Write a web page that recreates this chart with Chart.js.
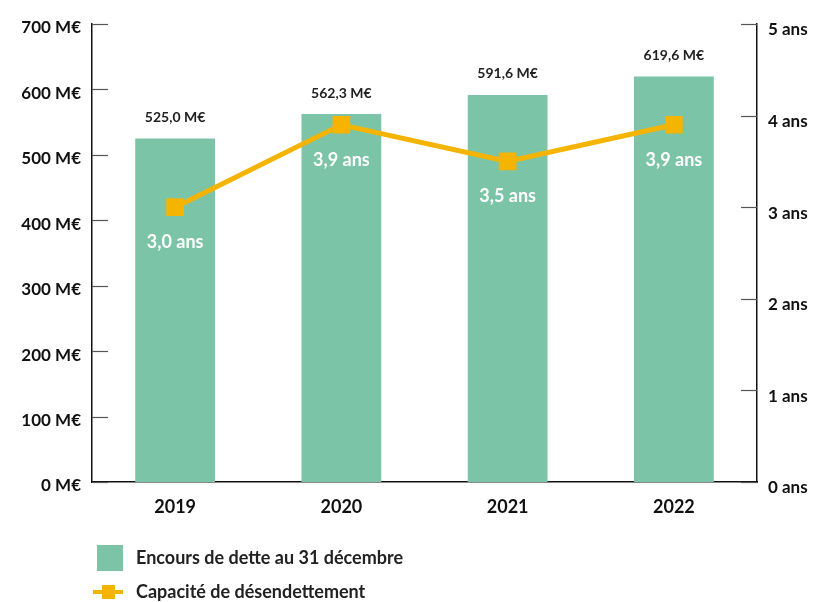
<!DOCTYPE html>
<html><head><meta charset="utf-8">
<script src="https://cdn.jsdelivr.net/npm/chart.js@4"></script>
<style>
html,body{margin:0;padding:0;background:#fff;}
#wrap{position:relative;width:816px;height:602px;}
canvas{position:absolute;left:0;top:0;}
.leg{position:absolute;font-family:Lato,"Open Sans",sans-serif;font-weight:700;font-size:18px;color:#222;white-space:nowrap;}
</style></head>
<body>
<div id="wrap">
<canvas id="c" width="816" height="602"></canvas>
<div style="position:absolute;left:97px;top:545px;width:26px;height:26px;background:#7cc4a8;"></div>
<div class="leg" style="left:136px;top:546px;">Encours de dette au 31 décembre</div>
<div style="position:absolute;left:93px;top:590px;width:30px;height:4px;background:#f5b400;"></div>
<div style="position:absolute;left:102px;top:585px;width:13px;height:14px;background:#f5b400;"></div>
<div class="leg" style="left:136px;top:580px;">Capacité de désendettement</div>
</div>
<script>
const years = ['2019', '2020', '2021', '2022'];
const encours = [525.0, 562.3, 591.6, 619.6];
const capacite = [3.0, 3.9, 3.5, 3.9];
const encoursLabels = ['525,0 M€', '562,3 M€', '591,6 M€', '619,6 M€'];
const capaciteLabels = ['3,0 ans', '3,9 ans', '3,5 ans', '3,9 ans'];
const leftTicks = [0, 100, 200, 300, 400, 500, 600, 700];
const rightTicks = [0, 1, 2, 3, 4, 5];

const FONT = 'Lato, "Open Sans", sans-serif';
const GREEN = '#7cc4a8';
const ORANGE = '#f5b400';

const innerTicks = {
  id: 'innerTicks',
  afterDatasetsDraw(chart) {
    const ctx = chart.ctx;
    const ya = chart.scales.y, yb = chart.scales.y1;
    ctx.save();
    ctx.strokeStyle = '#555';
    ctx.lineWidth = 1.2;
    leftTicks.forEach(v => {
      const p = Math.round(ya.getPixelForValue(v)) + 0.5;
      ctx.beginPath(); ctx.moveTo(ya.right, p); ctx.lineTo(ya.right + 16, p); ctx.stroke();
    });
    rightTicks.forEach(v => {
      const p = Math.round(yb.getPixelForValue(v)) + 0.5;
      ctx.beginPath(); ctx.moveTo(yb.left - 16, p); ctx.lineTo(yb.left, p); ctx.stroke();
    });
    ctx.restore();
  }
};

const valueLabels = {
  id: 'valueLabels',
  afterDatasetsDraw(chart) {
    const ctx = chart.ctx;
    ctx.save();
    ctx.textAlign = 'center';
    ctx.textBaseline = 'middle';
    const barMeta = chart.getDatasetMeta(0);
    ctx.font = 'bold 14px ' + FONT;
    ctx.fillStyle = '#222';
    barMeta.data.forEach((el, i) => {
      ctx.fillText(encoursLabels[i], el.x, el.y - 21);
    });
    const lineMeta = chart.getDatasetMeta(1);
    ctx.font = 'bold 18px ' + FONT;
    ctx.fillStyle = '#fff';
    lineMeta.data.forEach((el, i) => {
      ctx.fillText(capaciteLabels[i], el.x, el.y + 35);
    });
    ctx.restore();
  }
};

new Chart(document.getElementById('c'), {
  data: {
    labels: years,
    datasets: [
      {
        type: 'bar', label: 'Encours de dette au 31 décembre', data: encours,
        backgroundColor: GREEN, yAxisID: 'y', order: 2,
        categoryPercentage: 1, barPercentage: 0.48
      },
      {
        type: 'line', label: 'Capacité de désendettement', data: capacite,
        borderColor: ORANGE, backgroundColor: ORANGE, borderWidth: 5,
        pointStyle: 'rect', pointRadius: 12.5, pointHoverRadius: 12.5,
        pointBorderWidth: 0, yAxisID: 'y1', order: 1, tension: 0
      }
    ]
  },
  options: {
    responsive: false,
    animation: false,
    layout: { padding: { top: 24, left: 0, right: 0, bottom: 0 } },
    plugins: { legend: { display: false }, tooltip: { enabled: false } },
    scales: {
      x: {
        grid: { display: false, drawTicks: false },
        border: { display: true, color: '#111', width: 1.5 },
        ticks: { color: '#111', font: { family: FONT, weight: 'bold', size: 18 }, padding: 14 },
        afterFit(s) { s.height = 120; }
      },
      y: {
        position: 'left', min: 0, max: 700,
        grid: { display: false, drawTicks: false },
        border: { display: true, color: '#111', width: 1.5 },
        afterBuildTicks(s) { s.ticks = leftTicks.map(v => ({ value: v })); },
        ticks: {
          color: '#111', font: { family: FONT, weight: 'bold', size: 17 }, padding: 11,
          labelOffset: 4,
          callback: v => v + ' M€'
        },
        afterFit(s) { s.width = 92; }
      },
      y1: {
        position: 'right', min: 0, max: 5,
        grid: { display: false, drawTicks: false },
        border: { display: true, color: '#111', width: 1.5 },
        afterBuildTicks(s) { s.ticks = rightTicks.map(v => ({ value: v })); },
        ticks: {
          color: '#111', font: { family: FONT, weight: 'bold', size: 17 }, padding: 11,
          labelOffset: 6,
          callback: v => v + ' ans'
        },
        afterFit(s) { s.width = 59; }
      }
    }
  },
  plugins: [innerTicks, valueLabels]
});
</script>
</body></html>
